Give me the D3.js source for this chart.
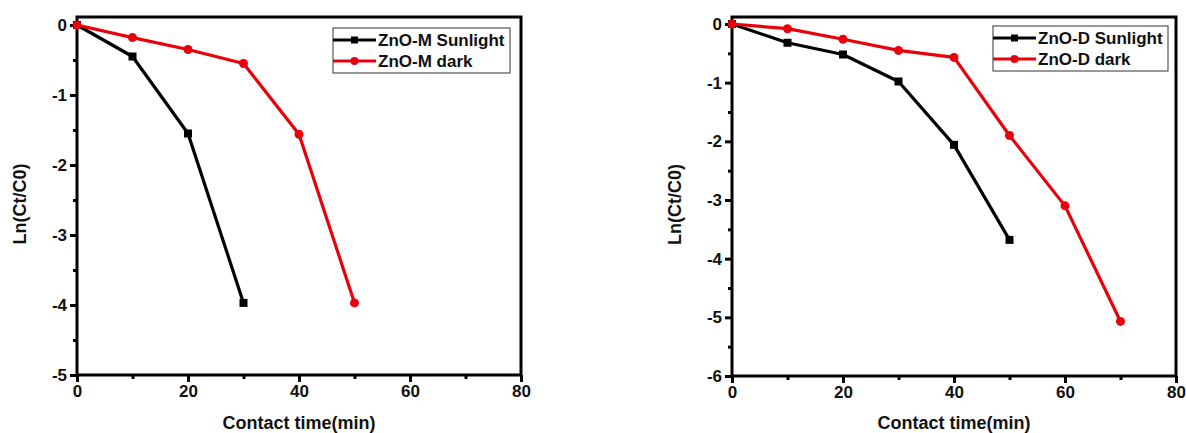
<!DOCTYPE html>
<html lang="en">
<head>
  <meta charset="UTF-8">
  <title>ZnO kinetics</title>
  <style>
    body {
      margin: 0;
      background-color: #fff;
      font-family: "Liberation Sans", Arial, sans-serif;
    }
    svg text {
      font-weight: bold;
      fill: #111;
    }
  </style>
  <script src="https://d3js.org/d3.v7.min.js"></script>
</head>
<body>
  <svg id="chart" width="1186" height="433"></svg>

  <script>
    // Data
    const timeM = [0, 10, 20, 30, 40, 50];
    const sunM = [0, -0.45, -1.55, -3.97];
    const darkM = [0, -0.18, -0.35, -0.55, -1.56, -3.97];

    const timeD = [0, 10, 20, 30, 40, 50, 60, 70];
    const sunD = [0, -0.32, -0.52, -0.98, -2.06, -3.68];
    const darkD = [0, -0.08, -0.26, -0.45, -0.57, -1.9, -3.1, -5.07];

    const xTicks = [0, 20, 40, 60, 80];
    const yTicksM = [0, -1, -2, -3, -4, -5];
    const yTicksD = [0, -1, -2, -3, -4, -5, -6];

    const svg = d3.select('#chart');
    const fmt = d => String(d); // plain hyphen, no decimals

    function drawPanel(opt) {
      const g = svg.append('g');
      const x = d3.scaleLinear().domain([0, 80]).range([opt.left, opt.right]);
      const y = d3.scaleLinear().domain([opt.yMin, 0]).range([opt.bottom, opt.zeroY]);
      const top = 17;

      // frame
      g.append('rect')
        .attr('x', opt.left).attr('y', top)
        .attr('width', opt.right - opt.left).attr('height', opt.bottom - top)
        .attr('fill', 'none').attr('stroke', '#000').attr('stroke-width', 3);

      // ticks, major + minor
      const xAxis = d3.axisBottom(x).tickValues(xTicks).tickFormat(fmt).tickSize(7).tickSizeOuter(0).tickPadding(3);
      const xMinor = d3.axisBottom(x).tickValues(d3.range(10, 80, 20)).tickSize(4).tickSizeOuter(0).tickFormat('');
      g.append('g').attr('transform', `translate(0,${opt.bottom})`).call(xAxis);
      g.append('g').attr('transform', `translate(0,${opt.bottom})`).call(xMinor);

      const yAxis = d3.axisLeft(y).tickValues(opt.yTicks).tickFormat(fmt).tickSize(7).tickSizeOuter(0).tickPadding(3);
      const yMinor = d3.axisLeft(y).tickValues(d3.range(opt.yMin + 0.5, 0, 1)).tickSize(4).tickSizeOuter(0).tickFormat('');
      g.append('g').attr('transform', `translate(${opt.left},0)`).call(yAxis);
      g.append('g').attr('transform', `translate(${opt.left},0)`).call(yMinor);

      g.selectAll('.domain').remove();
      g.selectAll('.tick line').attr('stroke', '#000').attr('stroke-width', 3);
      g.selectAll('.tick text')
        .style('font-family', '"Liberation Sans", Arial, sans-serif')
        .style('font-size', '17px').style('font-weight', 'bold').attr('fill', '#111');

      // axis titles
      g.append('text')
        .attr('x', (opt.left + opt.right) / 2).attr('y', 429)
        .attr('text-anchor', 'middle').style('font-size', '18px')
        .text('Contact time(min)');
      g.append('text')
        .attr('transform', `translate(${opt.left - 51},${(top + opt.bottom) / 2 + 8}) rotate(-90)`)
        .attr('text-anchor', 'middle').style('font-size', '18px')
        .text('Ln(Ct/C0)');

      const line = d3.line().x(d => x(d[0])).y(d => y(d[1]));
      const series = [
        { vals: opt.sun, color: '#000', shape: 'square' },
        { vals: opt.dark, color: '#e8000b', shape: 'circle' }
      ];
      series.forEach(s => {
        const pts = s.vals.map((v, i) => [opt.time[i], v]);
        g.append('path').datum(pts)
          .attr('fill', 'none').attr('stroke', s.color).attr('stroke-width', 3.2)
          .attr('stroke-linejoin', 'round').attr('d', line);
        if (s.shape === 'square') {
          g.selectAll(null).data(pts).enter().append('rect')
            .attr('x', d => x(d[0]) - 4).attr('y', d => y(d[1]) - 4)
            .attr('width', 8).attr('height', 8).attr('fill', s.color);
        } else {
          g.selectAll(null).data(pts).enter().append('circle')
            .attr('cx', d => x(d[0])).attr('cy', d => y(d[1]))
            .attr('r', 4.5).attr('fill', s.color);
        }
      });

      // legend
      const lg = g.append('g').attr('transform', `translate(${opt.legX},${opt.legY})`);
      lg.append('rect').attr('width', opt.legW).attr('height', 45)
        .attr('fill', '#fff').attr('stroke', '#333').attr('stroke-width', 1);
      [[opt.names[0], '#000', 'square'], [opt.names[1], '#e8000b', 'circle']].forEach((d, i) => {
        const cy = 12 + i * 21;
        lg.append('line').attr('x1', 0).attr('x2', 43).attr('y1', cy).attr('y2', cy)
          .attr('stroke', d[1]).attr('stroke-width', 3);
        if (d[2] === 'square') {
          lg.append('rect').attr('x', 18).attr('y', cy - 3.5).attr('width', 7).attr('height', 7).attr('fill', d[1]);
        } else {
          lg.append('circle').attr('cx', 21.5).attr('cy', cy).attr('r', 4).attr('fill', d[1]);
        }
        lg.append('text').attr('x', 45).attr('y', cy + 6)
          .style('font-size', '17px').text(d[0]);
      });
    }

    drawPanel({
      left: 77, right: 521, zeroY: 25, bottom: 375, yMin: -5,
      yTicks: yTicksM, time: timeM, sun: sunM, dark: darkM,
      names: ['ZnO-M Sunlight', 'ZnO-M dark'],
      legX: 333, legY: 28, legW: 177
    });

    drawPanel({
      left: 732, right: 1176, zeroY: 24, bottom: 376, yMin: -6,
      yTicks: yTicksD, time: timeD, sun: sunD, dark: darkD,
      names: ['ZnO-D Sunlight', 'ZnO-D dark'],
      legX: 993, legY: 26, legW: 175
    });
  </script>
</body>
</html>
